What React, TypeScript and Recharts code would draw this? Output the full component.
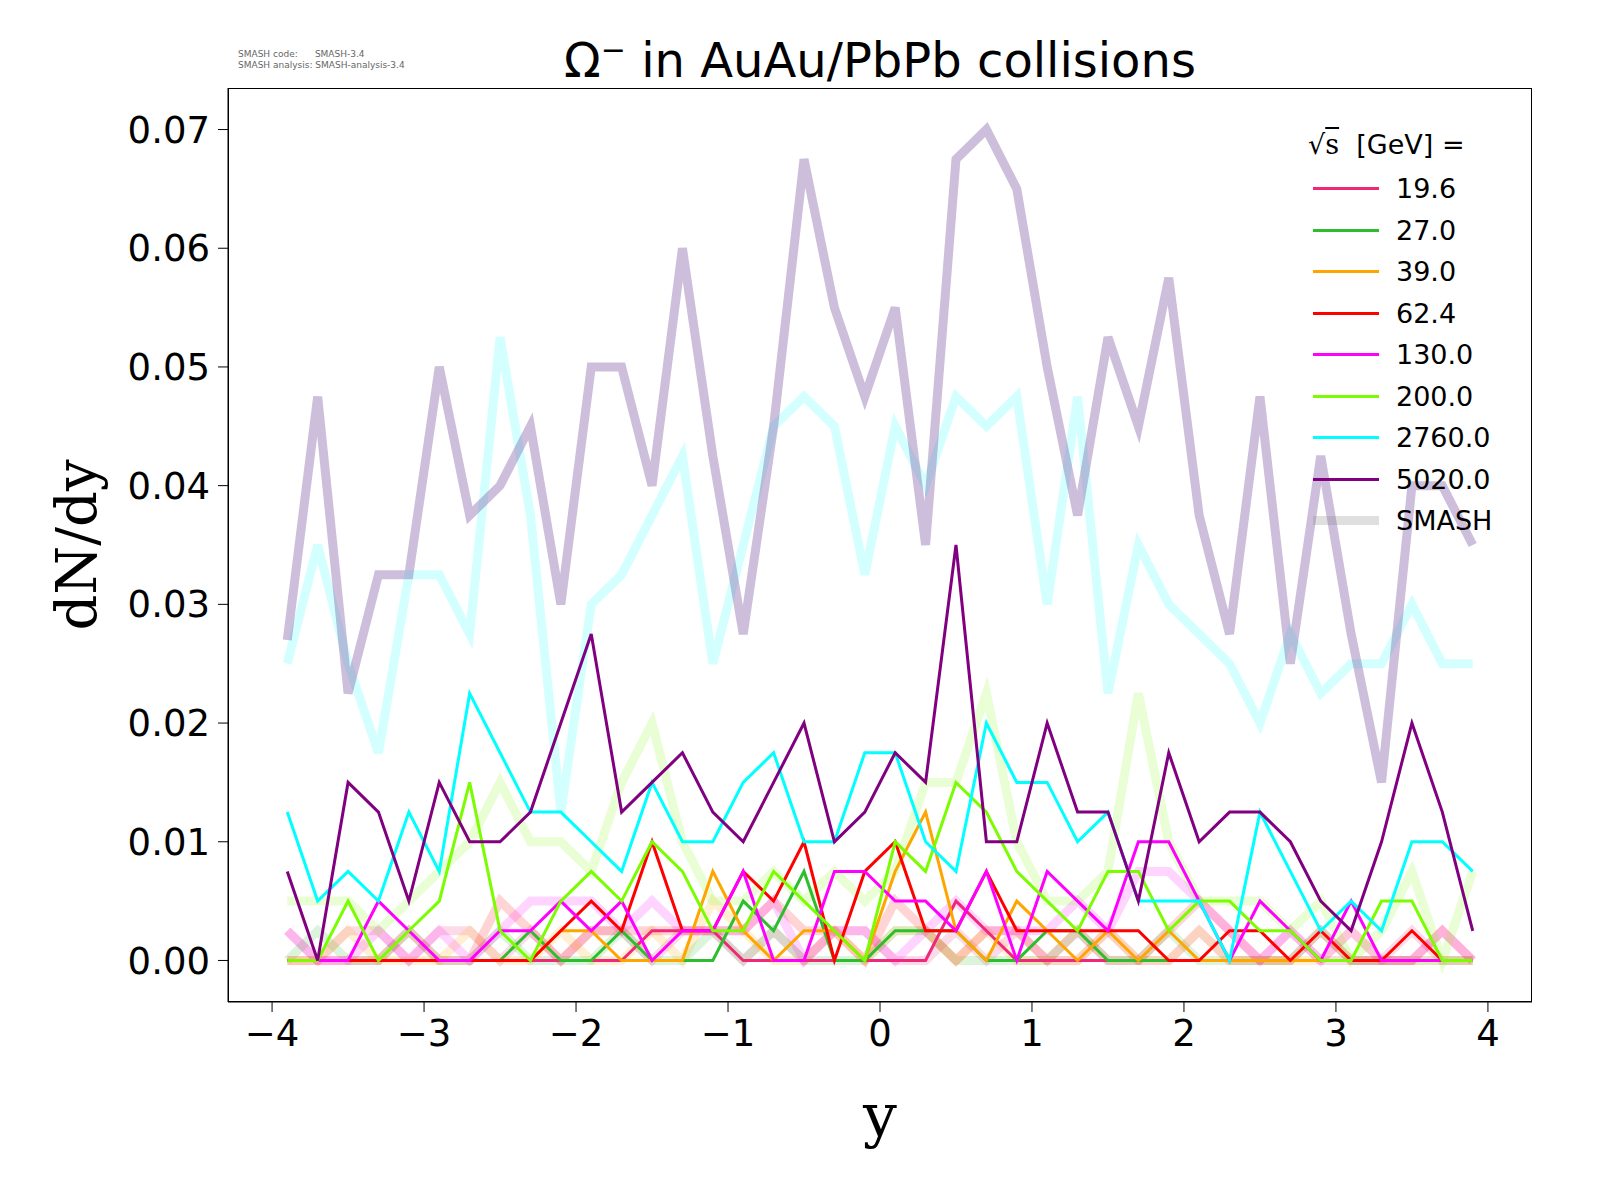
import React from "react";
import { LineChart, Line, XAxis, YAxis } from "recharts";

const ys = [-3.9,-3.7,-3.5,-3.3,-3.1,-2.9,-2.7,-2.5,-2.3,-2.1,-1.9,-1.7,-1.5,-1.3,-1.1,-0.9,-0.7,-0.5,-0.3,-0.1,0.1,0.3,0.5,0.7,0.9,1.1,1.3,1.5,1.7,1.9,2.1,2.3,2.5,2.7,2.9,3.1,3.3,3.5,3.7,3.9];
const energies = ["19.6","27.0","39.0","62.4","130.0","200.0","2760.0","5020.0"];
const colors = ["#f0287a","#2ebd2e","#ffa500","#ff0000","#ff00ff","#7cfc00","#00ffff","#800080"];
const smashColors = ["#f0287a","#2ebd2e","#ffa500","#ff0000","#ff00ff","#7cfc00","#00ffff","#5a2a8a"];

const exp196 = [0,0,0,0,0,0,0,0,0,0,0,0,0.0025,0.0025,0.0025,0,0,0,0,0,0,0,0.005,0.0025,0,0,0,0,0,0,0,0,0,0,0,0,0,0,0,0];
const exp27 = [0,0,0,0,0,0,0,0,0.0025,0,0,0.0025,0,0,0,0.005,0.0025,0.0075,0,0,0.0025,0.0025,0.0025,0,0,0.0025,0.0025,0,0,0,0,0,0,0,0,0,0,0,0,0];
const exp39 = [0,0,0,0,0,0,0,0,0,0.0025,0.0025,0,0,0,0.0075,0.0025,0,0.0025,0.0025,0,0.0075,0.0125,0.0025,0,0.005,0.0025,0,0.0025,0,0.0025,0,0,0,0,0,0,0,0,0,0];
const exp624 = [0,0,0,0,0,0,0,0,0,0.0025,0.005,0.0025,0.01,0.0025,0.0025,0.0075,0.005,0.01,0,0.0075,0.01,0.0025,0.0025,0.0075,0.0025,0.0025,0.0025,0.0025,0.0025,0,0,0.0025,0.0025,0,0.0025,0,0,0.0025,0,0];
const exp130 = [0,0,0,0.005,0.0025,0,0,0.0025,0.0025,0.005,0.0025,0.005,0,0.0025,0.0025,0.0075,0,0,0.0075,0.0075,0.005,0.005,0.0025,0.0075,0,0.0075,0.005,0.0025,0.01,0.01,0.005,0,0.005,0.0025,0,0.005,0,0,0,0];
const exp200 = [0,0,0.005,0,0.0025,0.005,0.015,0.0025,0,0.005,0.0075,0.005,0.01,0.0075,0.0025,0.0025,0.0075,0.005,0.0025,0,0.01,0.0075,0.015,0.0125,0.0075,0.005,0.0025,0.0075,0.0075,0.0025,0.005,0.005,0.0025,0.0025,0,0,0.005,0.005,0,0];
const exp2760 = [0.0125,0.005,0.0075,0.005,0.0125,0.0075,0.0225,0.0175,0.0125,0.0125,0.01,0.0075,0.015,0.01,0.01,0.015,0.0175,0.01,0.01,0.0175,0.0175,0.01,0.0075,0.02,0.015,0.015,0.01,0.0125,0.005,0.005,0.005,0,0.0125,0.0075,0.0025,0.005,0.0025,0.01,0.01,0.0075];
const exp5020 = [0.0075,0,0.015,0.0125,0.005,0.015,0.01,0.01,0.0125,0.02,0.0275,0.0125,0.015,0.0175,0.0125,0.01,0.015,0.02,0.01,0.0125,0.0175,0.015,0.035,0.01,0.01,0.02,0.0125,0.0125,0.005,0.0175,0.01,0.0125,0.0125,0.01,0.005,0.0025,0.01,0.02,0.0125,0.0025];

const sm196 = [0.0025,0,0.0025,0.0025,0,0.0025,0.0025,0,0.0025,0,0.0025,0.0025,0,0.0025,0.0025,0,0.0025,0,0.0025,0.0025,0,0,0.0025,0,0.0025,0,0,0.0025,0,0,0.0025,0,0,0.0025,0,0,0,0.0025,0,0];
const sm27 = [0,0.0025,0,0,0.0025,0,0,0.0025,0,0,0,0.0025,0,0,0.0025,0,0.0025,0,0,0,0.0025,0.0025,0,0,0,0,0.0025,0,0,0.0025,0,0,0,0,0.0025,0,0,0,0,0];
const sm39 = [0,0,0.0025,0,0,0,0.0025,0,0,0.0025,0,0,0.0025,0,0.005,0.0025,0,0,0.0025,0,0.0025,0.0025,0,0.0025,0,0,0,0.0025,0,0,0.0025,0,0,0,0,0.0025,0,0,0,0];
const sm624 = [0,0,0,0,0.0025,0,0,0.005,0.0025,0,0.0025,0.0025,0.0025,0.0025,0.0025,0.0025,0.005,0.0025,0.0025,0,0.005,0.0025,0,0.0025,0.0025,0,0.0025,0,0,0.0025,0.005,0.0025,0,0,0.0025,0,0,0,0.0025,0];
const sm130 = [0.0025,0,0,0.0025,0,0.0025,0,0.0025,0.005,0.005,0.005,0.0025,0.005,0.0025,0.0025,0.0025,0.005,0,0.0025,0.0025,0,0.0025,0.005,0.0025,0.0025,0.0025,0.005,0.0025,0.0075,0.0075,0.005,0.0025,0,0.0025,0,0.0025,0,0,0.0025,0];
const sm200 = [0.005,0.005,0.005,0.0025,0.005,0.0075,0.01,0.015,0.01,0.01,0.0075,0.015,0.02,0.01,0.005,0.005,0.0075,0.005,0.0075,0.005,0.0075,0.015,0.015,0.0225,0.01,0.005,0.005,0.0075,0.0225,0.01,0.005,0.005,0.005,0.0025,0.005,0,0.0025,0.0075,0,0.0075];
const sm2760 = [0.025,0.035,0.025,0.0175,0.0325,0.0325,0.0275,0.0525,0.0375,0.0125,0.03,0.0325,0.0375,0.0425,0.025,0.035,0.045,0.0475,0.045,0.0325,0.045,0.04,0.0475,0.045,0.0475,0.03,0.0475,0.0225,0.035,0.03,0.0275,0.025,0.02,0.0275,0.0225,0.025,0.025,0.03,0.025,0.025];
const sm5020 = [0.027,0.0475,0.0225,0.0325,0.0325,0.05,0.0375,0.04,0.045,0.03,0.05,0.05,0.04,0.06,0.0425,0.0275,0.045,0.0675,0.055,0.0475,0.055,0.035,0.0675,0.07,0.065,0.05,0.0375,0.0525,0.045,0.0575,0.0375,0.0275,0.0475,0.025,0.0425,0.0275,0.015,0.04,0.04,0.035];

const expSeries = [exp196, exp27, exp39, exp624, exp130, exp200, exp2760, exp5020];
const smSeries = [sm196, sm27, sm39, sm624, sm130, sm200, sm2760, sm5020];

const xTicks = [-4,-3,-2,-1,0,1,2,3,4];
const yTicks = [0,0.01,0.02,0.03,0.04,0.05,0.06,0.07];

const data = ys.map((y, i) => {
  const row: any = { y };
  energies.forEach((_, k) => { row["e" + k] = expSeries[k][i]; row["s" + k] = smSeries[k][i]; });
  return row;
});

const fmtX = (v: number) => (v < 0 ? "\u2212" + Math.abs(v) : String(v));

export default function App() {
  const font = "DejaVu Sans";
  return (
    <div style={{ position: "relative", width: 1584, height: 1184, fontFamily: font, overflow: "hidden" }}>
      <LineChart width={1584} height={1184} data={data} margin={{ top: 80, right: 60, bottom: 70, left: 0 }}>
        <XAxis dataKey="y" type="number" domain={[-4.29, 4.29]} ticks={xTicks} tickFormatter={fmtX}
          allowDataOverflow height={120} stroke="#000" tickSize={10} tickMargin={8}
          tick={{ fontSize: 37, fill: "#000", fontFamily: font }} />
        <YAxis type="number" domain={[-0.0035, 0.0735]} ticks={yTicks} tickFormatter={(v: number) => v.toFixed(2)}
          allowDataOverflow width={220} stroke="#000" tickSize={10} tickMargin={8}
          tick={{ fontSize: 37, fill: "#000", fontFamily: font }} />
        {smSeries.map((_, k) => (
          <Line key={"s" + k} dataKey={"s" + k} stroke={smashColors[k]} strokeOpacity={k === 7 ? 0.3 : 0.17} strokeWidth={9}
            dot={false} isAnimationActive={false} strokeLinejoin="miter" />
        ))}
        {expSeries.map((_, k) => (
          <Line key={"e" + k} dataKey={"e" + k} stroke={colors[k]} strokeWidth={3}
            dot={false} isAnimationActive={false} />
        ))}
      </LineChart>
      <div style={{ position: "absolute", left: 220, top: 80, width: 1304, height: 914, border: "1.5px solid #000", boxSizing: "border-box", pointerEvents: "none" }} />
      <div style={{ position: "absolute", left: 230, top: 41, fontSize: 9, color: "#666", fontFamily: font, lineHeight: "11px", whiteSpace: "pre" }}>
        {"SMASH code:      SMASH-3.4\nSMASH analysis: SMASH-analysis-3.4"}
      </div>
      <div style={{ position: "absolute", left: 220, width: 1304, top: 24, textAlign: "center", fontSize: 48, fontFamily: font }}>
        Ω<sup style={{ fontSize: 30 }}>−</sup> in AuAu/PbPb collisions
      </div>
      <div style={{ position: "absolute", left: 220, width: 1304, top: 1072, textAlign: "center", fontSize: 60, fontFamily: "DejaVu Serif" }}>y</div>
      <div style={{ position: "absolute", left: 68, top: 537, transform: "translate(-50%,-50%) rotate(-90deg)", fontSize: 56, fontFamily: "DejaVu Serif", whiteSpace: "nowrap" }}>dN/dy</div>
      <div style={{ position: "absolute", left: 1300, top: 112, fontSize: 27, fontFamily: font }}>
        <div style={{ height: 48, display: "flex", alignItems: "center" }}>
          <span style={{ fontFamily: "DejaVu Serif" }}>√<span style={{ textDecoration: "overline" }}>s</span></span>&nbsp;&nbsp;[GeV] =
        </div>
        {energies.concat(["SMASH"]).map((e, k) => (
          <div key={e} style={{ height: 41.5, display: "flex", alignItems: "center" }}>
            <div style={{ width: 66, height: k === 8 ? 9 : 3, marginLeft: 5, background: k === 8 ? "rgba(128,128,128,0.25)" : colors[k] }} />
            <span style={{ marginLeft: 17 }}>{e}</span>
          </div>
        ))}
      </div>
    </div>
  );
}
